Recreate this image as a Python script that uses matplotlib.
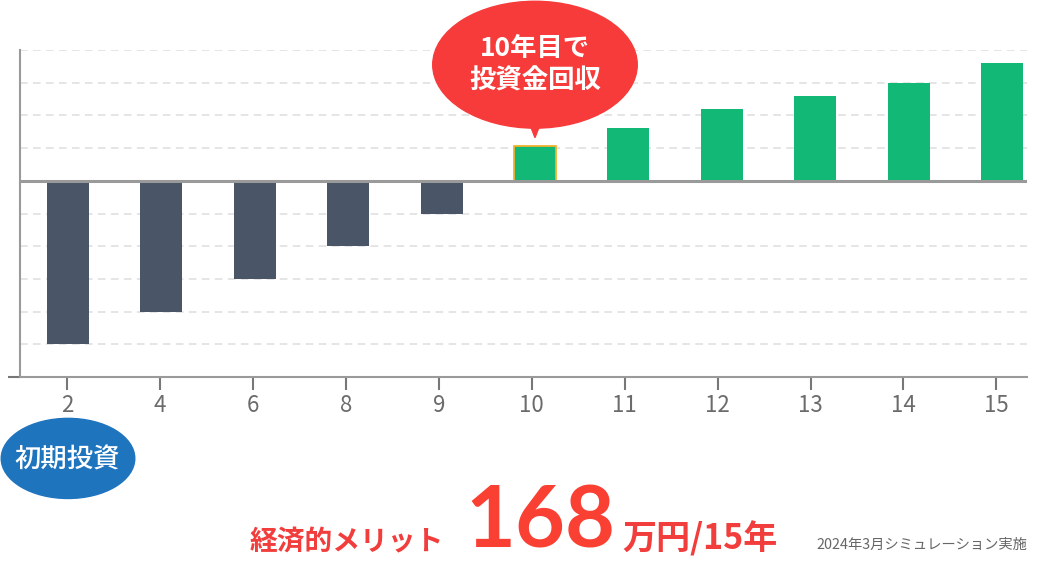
import matplotlib

matplotlib.use("Agg")
import matplotlib.pyplot as plt
from matplotlib.patches import Ellipse, Polygon

plt.rcParams["font.family"] = ["Noto Sans CJK JP", "DejaVu Sans"]

# data (grid step = 1 unit)
years = ["2", "4", "6", "8", "9", "10", "11", "12", "13", "14", "15"]
balance = [-5.0, -4.0, -3.0, -2.0, -1.0, 1.05, 1.6, 2.2, 2.6, 3.0, 3.6]
payback_year = "10"
merit_value = "168"

NEG = "#4a5568"
POS = "#12b875"
AXIS = "#9a9a9a"
GRID = "#dedede"
RED = "#f63b3a"
BLUE = "#1f74be"

W, H = 1037, 563
fig = plt.figure(figsize=(W / 100, H / 100), dpi=100)
ax = fig.add_axes([20 / W, 1 - 377 / H, 1007 / W, 327 / H])

xs = list(range(len(years)))
colors = [POS if v > 0 else NEG for v in balance]
bars = ax.bar(xs, balance, width=0.45, color=colors, zorder=2)
pb = years.index(payback_year)
bars[pb].set_edgecolor("#f2b230")
bars[pb].set_linewidth(1.3)

ax.set_xlim(-0.514, len(years) - 1 + 0.268)
ax.set_ylim(-6, 4)

for g in range(-5, 5):
    if g == 0:
        continue
    ax.axhline(g, color=GRID, lw=1.1, ls=(0, (5, 3.5)), zorder=1)
ax.axhline(0, color=AXIS, lw=2.2, zorder=3)

for side in ("top", "right"):
    ax.spines[side].set_visible(False)
for side in ("left", "bottom"):
    ax.spines[side].set_color(AXIS)
    ax.spines[side].set_linewidth(1.5)

# tick marks sit a touch left of the bar centres in the original
ax.set_xticks([x * 0.995 - 0.01 for x in xs])
ax.set_xticklabels(years)
ax.set_yticks([-6])
ax.set_yticklabels([""])
ax.tick_params(axis="x", length=9, width=1.5, color="#777", pad=3,
               labelsize=16, labelcolor="#6b6b6b")
ax.tick_params(axis="y", length=9, width=1.5, color="#777")

# callout above the payback bar
tip_y = balance[pb] + 0.27
ax.add_patch(Ellipse((pb, 3.55), 2.19, 3.88, color=RED, clip_on=False, zorder=5))
ax.add_patch(Polygon([[pb - 0.065, 1.8], [pb + 0.065, 1.8], [pb, tip_y]],
                     closed=True, color=RED, clip_on=False, zorder=5))
ax.text(pb, 3.55, f"{payback_year}年目で\n投資金回収", ha="center", va="center",
        color="white", fontsize=19, fontweight="bold", linespacing=1.25,
        zorder=6, clip_on=False)

# initial investment badge under the first year
ax.add_patch(Ellipse((0, -8.49), 1.43, 2.45, color=BLUE, clip_on=False, zorder=5))
ax.text(-0.01, -8.54, "初期投資", ha="center", va="center", color="white",
        fontsize=19, fontweight="medium", zorder=6, clip_on=False)

# summary line
fig.text(250 / W, 1 - 550 / H, "経済的メリット", ha="left", va="baseline",
         color="#f23d3d", fontsize=20, fontweight="bold")
fig.text(465 / W, 1 - 548 / H, merit_value, ha="left", va="baseline",
         color="#fa3f33", fontsize=62, fontweight="bold",
         family=["Lato", "DejaVu Sans"])
fig.text(622 / W, 1 - 550 / H, "万円/15年", ha="left", va="baseline",
         color="#f23d3d", fontsize=24.5, fontweight="bold")
fig.text(1027 / W, 1 - 545 / H, "2024年3月シミュレーション実施", ha="right",
         va="center", color="#666666", fontsize=10.3)

fig.savefig("out.png", dpi=100, facecolor="white")
